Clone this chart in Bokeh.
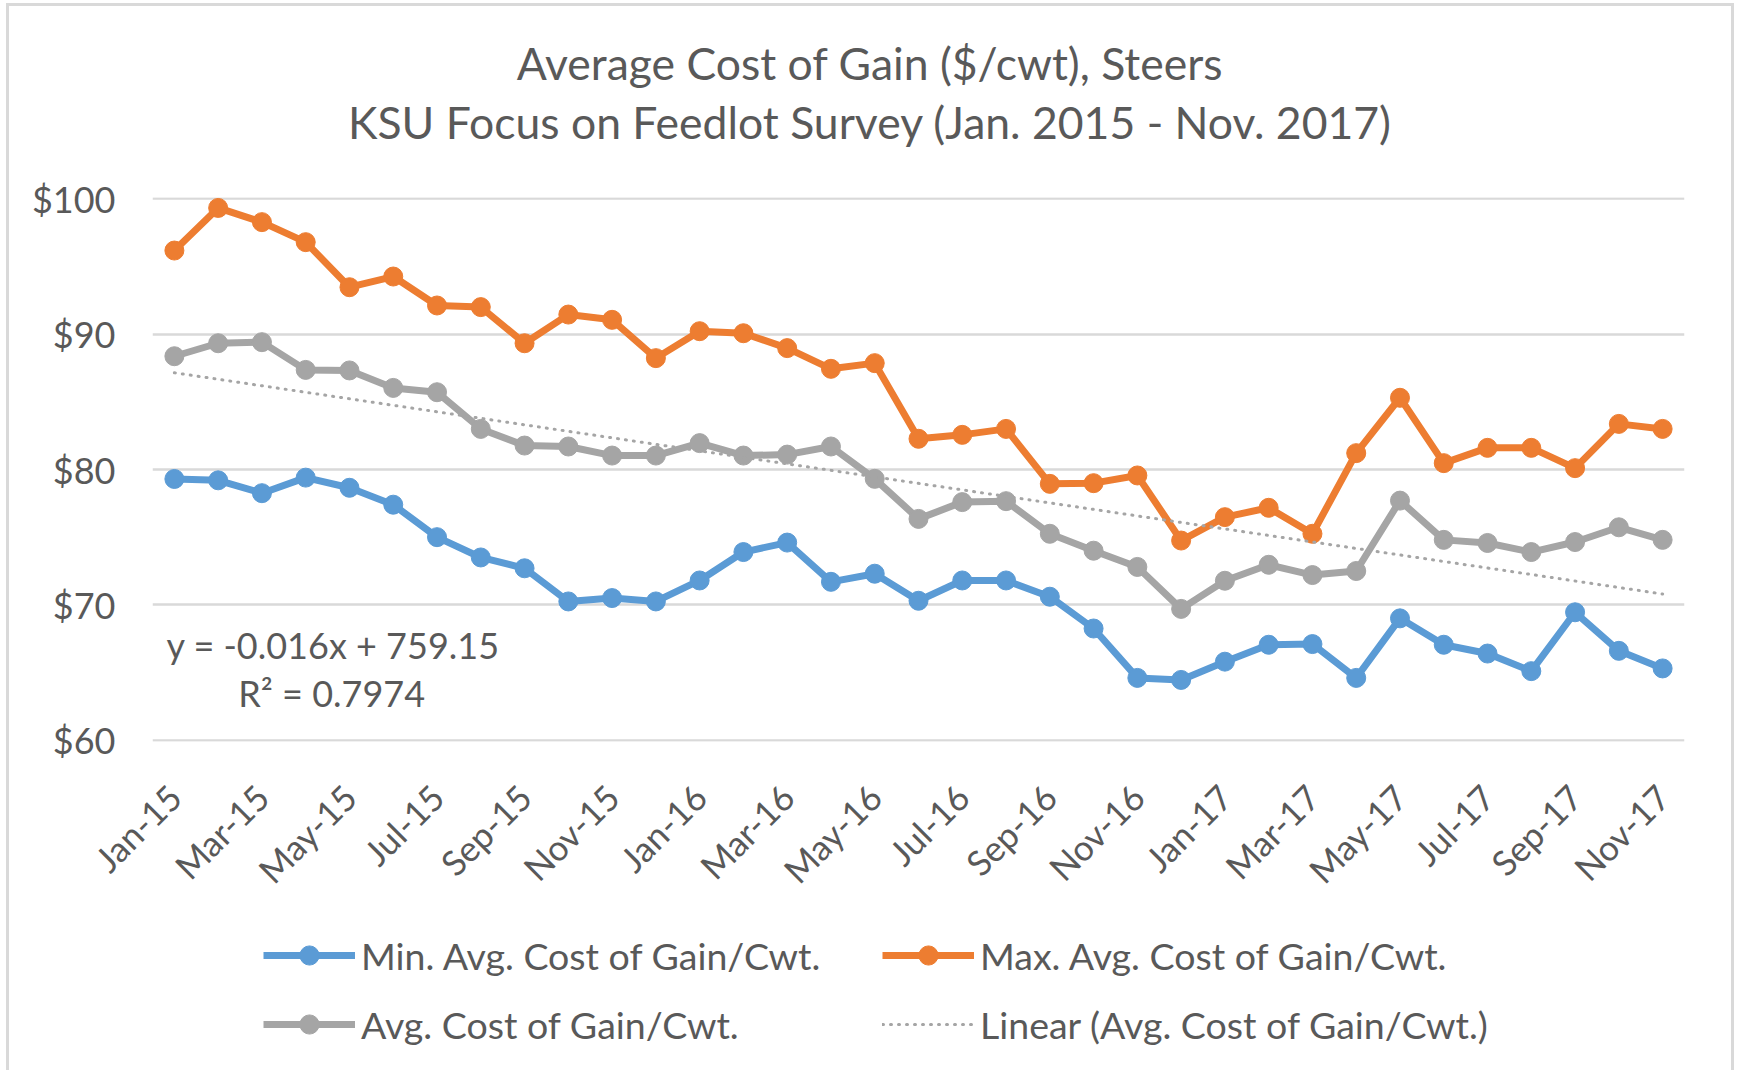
import math
from bokeh.plotting import figure
from bokeh.layouts import column
from bokeh.models import Range1d, FixedTicker, Legend, LegendItem, Label, NumeralTickFormatter
from bokeh.embed import file_html
from bokeh.resources import INLINE

months = ["Jan-15", "Feb-15", "Mar-15", "Apr-15", "May-15", "Jun-15", "Jul-15", "Aug-15", "Sep-15", "Oct-15", "Nov-15", "Dec-15",
          "Jan-16", "Feb-16", "Mar-16", "Apr-16", "May-16", "Jun-16", "Jul-16", "Aug-16", "Sep-16", "Oct-16", "Nov-16", "Dec-16",
          "Jan-17", "Feb-17", "Mar-17", "Apr-17", "May-17", "Jun-17", "Jul-17", "Aug-17", "Sep-17", "Oct-17", "Nov-17"]

min_cost = [79.3, 79.2, 78.25, 79.4, 78.65, 77.4, 75.0, 73.5, 72.7, 70.25, 70.5, 70.25,
            71.8, 73.9, 74.6, 71.7, 72.3, 70.3, 71.8, 71.8, 70.6, 68.25, 64.6, 64.45,
            65.8, 67.05, 67.1, 64.6, 69.0, 67.05, 66.4, 65.1, 69.45, 66.6, 65.3]

max_cost = [96.18, 99.33, 98.28, 96.8, 93.47, 94.26, 92.12, 92.0, 89.33, 91.45, 91.06, 88.23,
            90.22, 90.07, 88.97, 87.44, 87.86, 82.27, 82.56, 83.0, 78.94, 78.99, 79.56, 74.75,
            76.48, 77.17, 75.25, 81.21, 85.3, 80.47, 81.6, 81.6, 80.1, 83.37, 83.0]

avg_cost = [88.37, 89.33, 89.41, 87.36, 87.32, 86.03, 85.71, 83.0, 81.77, 81.7, 81.03, 81.03,
            81.95, 81.03, 81.1, 81.7, 79.31, 76.35, 77.59, 77.66, 75.25, 74.0, 72.8, 69.7,
            71.78, 72.96, 72.2, 72.5, 77.7, 74.8, 74.57, 73.9, 74.64, 75.73, 74.8]

trend_x = [0, 34]
trend_y = [87.15, 70.8]

y_ticks = [60, 70, 80, 90, 100]

series_names = ["Min. Avg. Cost of Gain/Cwt.", "Max. Avg. Cost of Gain/Cwt.",
                "Avg. Cost of Gain/Cwt.", "Linear (Avg. Cost of Gain/Cwt.)"]
title_lines = ["Average Cost of Gain ($/cwt), Steers",
               "KSU Focus on Feedlot Survey (Jan. 2015 - Nov. 2017)"]
equation = "y = -0.016x + 759.15"
r_squared = "R² = 0.7974"

FONT = "Lato"
TXT = "#595959"
colors = ["#5b9bd5", "#ed7d31", "#a5a5a5"]
x = list(range(len(months)))
W = 1722


def strip(h):
    f = figure(width=W, height=h, output_backend="svg", toolbar_location=None, title=None,
               x_range=Range1d(100, 200), y_range=Range1d(0, 1), x_axis_type=None, y_axis_type=None,
               min_border=0, min_border_left=0, min_border_right=0, min_border_top=0, min_border_bottom=0)
    f.outline_line_color = None
    f.grid.visible = False
    f.background_fill_color = "white"
    f.border_fill_color = "white"
    return f

# ---------------- title strip ----------------
TH = 150
t = strip(TH)
t.add_layout(Label(x=717.5, y=94.2, x_units="screen", y_units="screen", text=title_lines[0],
                   text_font=FONT, text_font_size="44.5px", text_color=TXT,
                   text_align="center", text_baseline="alphabetic"))
t.add_layout(Label(x=717.5, y=35.5, x_units="screen", y_units="screen", text=title_lines[1],
                   text_font=FONT, text_font_size="44.5px", text_color=TXT,
                   text_align="center", text_baseline="alphabetic"))

# ---------------- main chart ----------------
p = figure(width=W, height=754, output_backend="svg", toolbar_location=None, title=None,
           x_range=Range1d(-0.5, len(months) - 0.5), y_range=Range1d(59.9, 100.1),
           min_border_left=143, min_border_right=47, min_border_top=41, min_border_bottom=169)
p.outline_line_color = None
p.background_fill_color = "white"
p.border_fill_color = "white"

p.xgrid.visible = False
p.ygrid.grid_line_color = "#d9d9d9"
p.ygrid.grid_line_width = 2.5

p.yaxis.ticker = FixedTicker(ticks=y_ticks)
p.yaxis.formatter = NumeralTickFormatter(format="$0")
p.yaxis.axis_line_color = None
p.yaxis.major_tick_line_color = None
p.yaxis.minor_tick_line_color = None
p.yaxis.major_tick_out = 0
p.yaxis.major_label_standoff = 37
p.yaxis.major_label_text_font = FONT
p.yaxis.major_label_text_font_size = "36px"
p.yaxis.major_label_text_color = TXT

p.xaxis.ticker = FixedTicker(ticks=x[::2])
p.xaxis.major_label_overrides = {i: months[i] for i in x[::2]}
p.xaxis.major_label_orientation = math.pi / 4
p.xaxis.axis_line_color = None
p.xaxis.major_tick_line_color = None
p.xaxis.minor_tick_line_color = None
p.xaxis.major_tick_out = 0
p.xaxis.major_label_standoff = 49
p.xaxis.major_label_text_font = FONT
p.xaxis.major_label_text_font_size = "35px"
p.xaxis.major_label_text_color = TXT

for ys, c in zip([min_cost, max_cost, avg_cost], colors):
    p.line(x, ys, line_color=c, line_width=7, line_join="round")
    p.scatter(x, ys, size=19, fill_color=c, line_color=c)

p.line(trend_x, trend_y, line_color="#a5a5a5", line_width=3, line_dash="1 7", line_cap="round")

p.add_layout(Label(x=-0.18, y=67.06, text=equation, text_font=FONT, text_font_size="36px",
                   text_color=TXT, text_baseline="middle", text_align="left"))
p.add_layout(Label(x=1.46, y=63.5, text=r_squared, text_font=FONT, text_font_size="36px",
                   text_color=TXT, text_baseline="middle", text_align="left"))

# ---------------- legend strip ----------------
q = strip(160)
items = []
for name, ys, c in zip([series_names[0], series_names[1], series_names[2]],
                       [min_cost, max_cost, avg_cost], colors):
    l = q.line(x, ys, line_color=c, line_width=7, line_join="round")
    s = q.scatter(x, ys, size=19, fill_color=c, line_color=c)
    items.append(LegendItem(label=name, renderers=[l, s]))
tl = q.line(trend_x, trend_y, line_color="#a5a5a5", line_width=3, line_dash="1 7", line_cap="round")
items.append(LegendItem(label=series_names[3], renderers=[tl]))

legend = Legend(items=items, orientation="horizontal", ncols=2, location=(111, 22),
                glyph_width=92, glyph_height=48, label_height=48, label_width=500,
                label_standoff=6, spacing=21, padding=0, margin=0,
                border_line_color=None, background_fill_alpha=0,
                label_text_font=FONT, label_text_font_size="37.5px", label_text_color=TXT)
q.add_layout(legend, "center")

layout = column(t, p, q, spacing=0)
layout.styles = {"border-top": "3px solid #d9d9d9", "border-left": "3px solid #d9d9d9",
                 "border-right": "3px solid #d9d9d9", "margin-left": "6px", "margin-top": "3px"}

open("out.html", "w").write(file_html(layout, INLINE))
